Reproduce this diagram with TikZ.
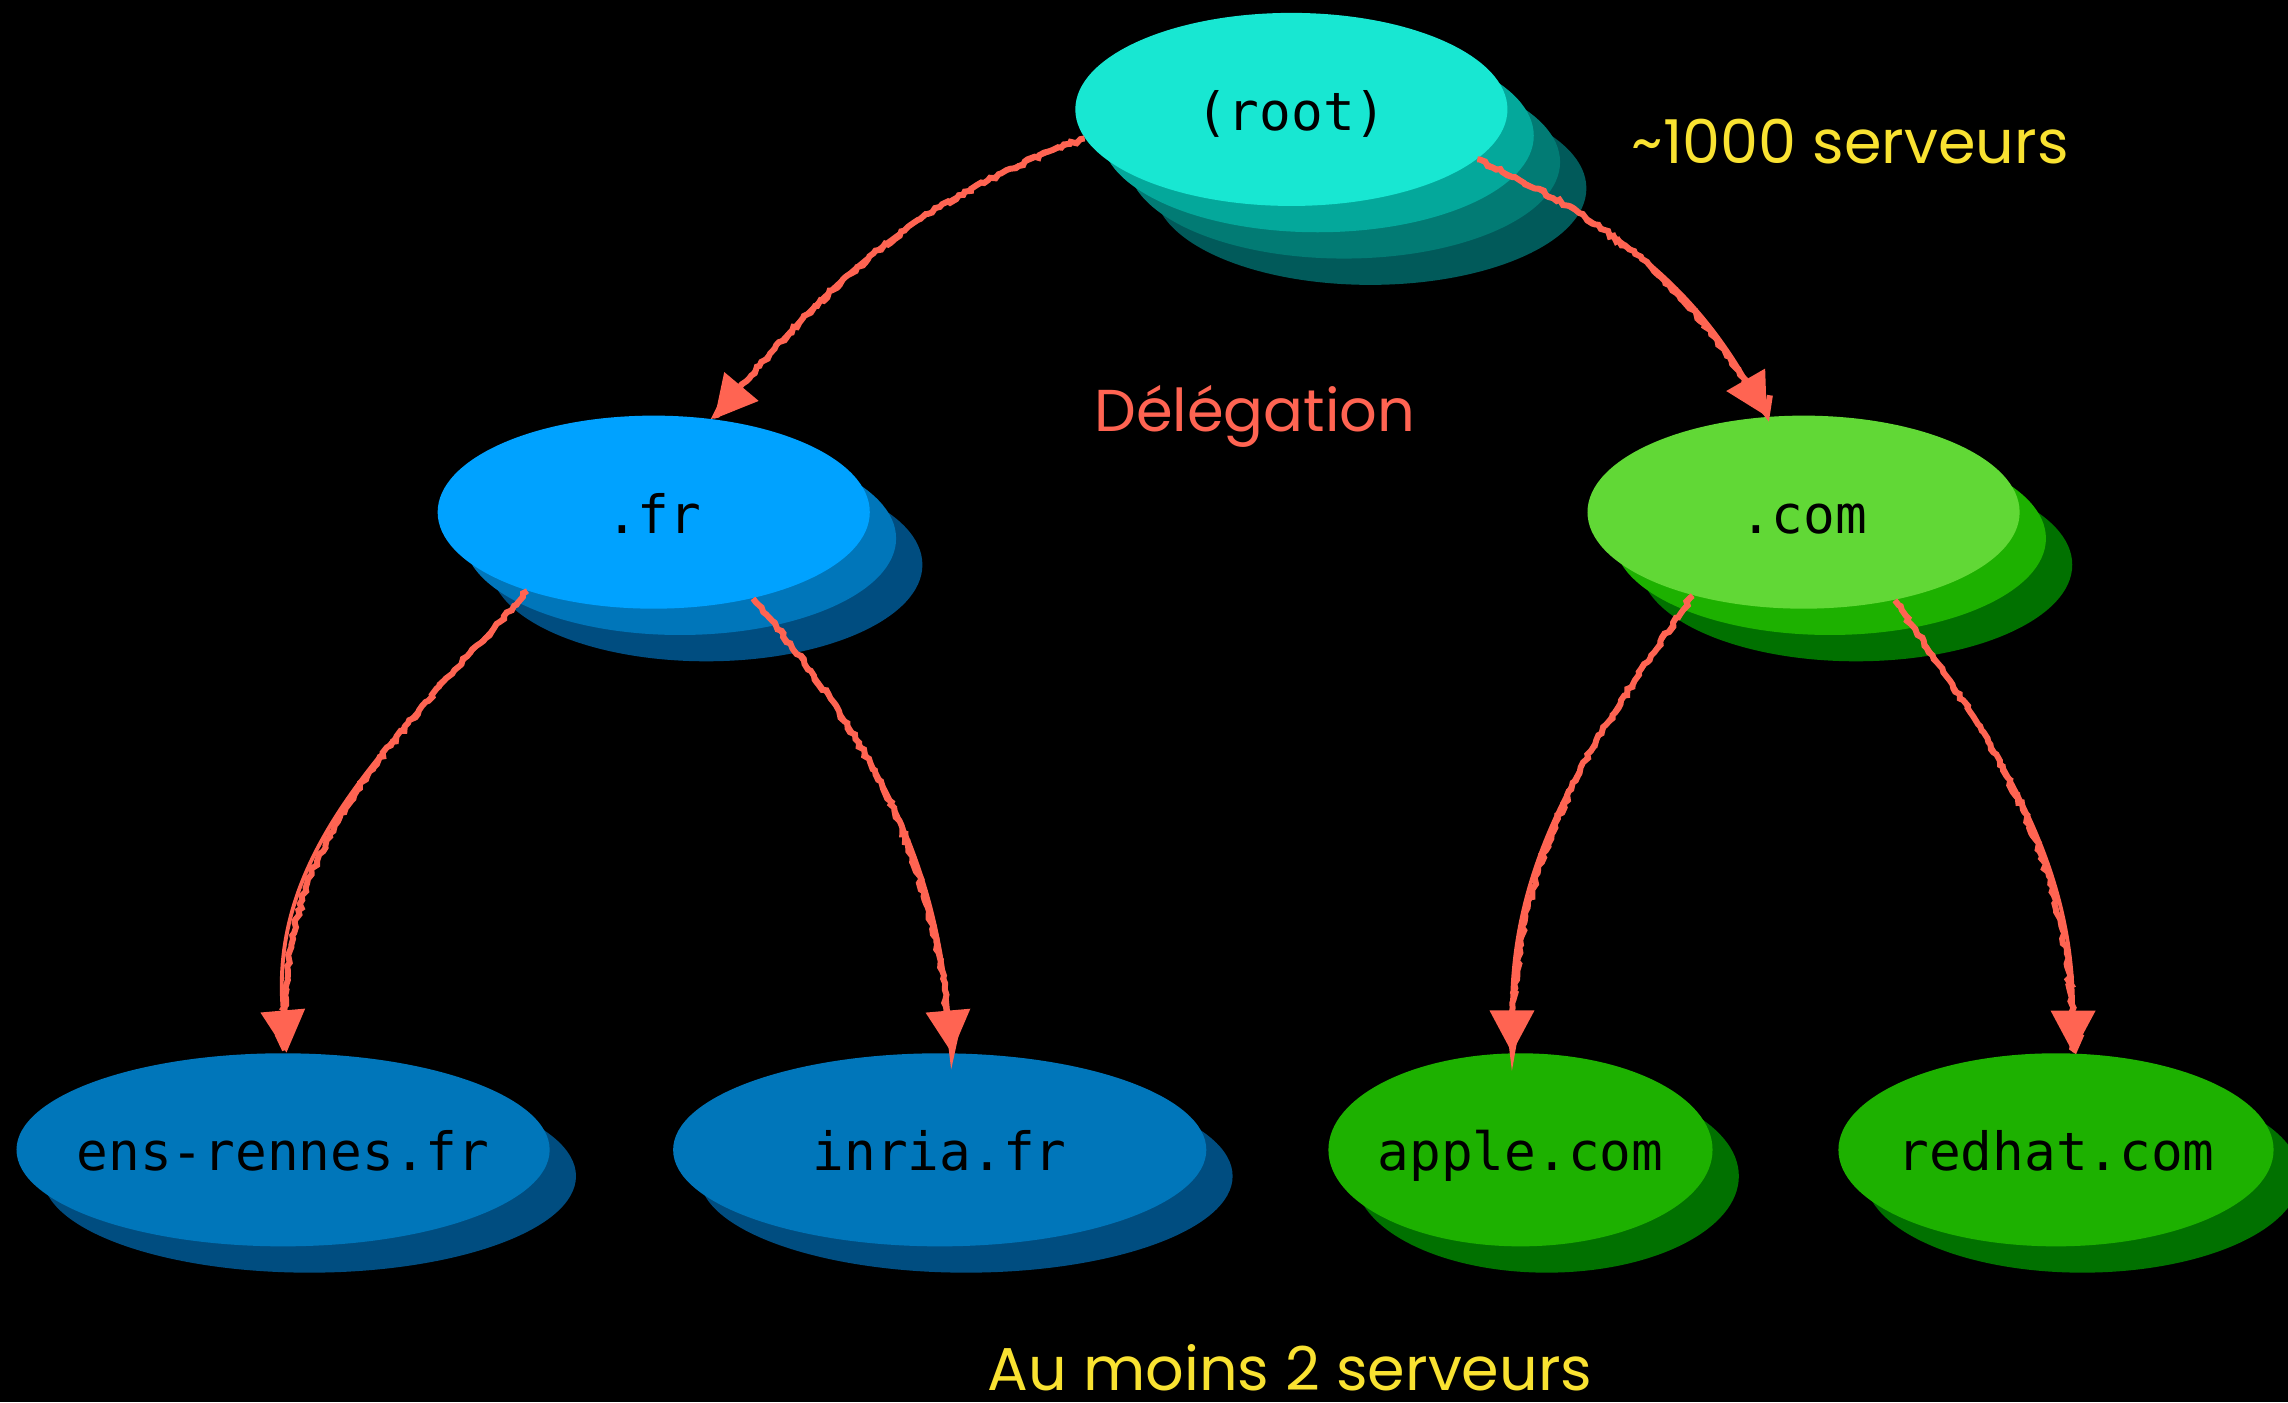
\documentclass[tikz,border=0pt]{standalone}
\usepackage{fontspec}
\setmonofont{DejaVu Sans Mono}
\newfontfamily\handfont{Poppins}
\usepackage{xcolor}
\usetikzlibrary{shapes.geometric}
\usetikzlibrary{shadows}
\usetikzlibrary{arrows.meta}
\usetikzlibrary{decorations.pathmorphing}

\definecolor{rootA}{HTML}{18E7D2}
\definecolor{rootB}{HTML}{04A89B}
\definecolor{rootC}{HTML}{027B74}
\definecolor{rootD}{HTML}{015A5A}
\definecolor{frA}{HTML}{00A2FF}
\definecolor{frB}{HTML}{0076BA}
\definecolor{frC}{HTML}{004D80}
\definecolor{comA}{HTML}{61D836}
\definecolor{comB}{HTML}{1DB100}
\definecolor{comC}{HTML}{017100}
\definecolor{chalk}{HTML}{FF6452}
\definecolor{chalkyellow}{HTML}{F9E231}

\tikzset{
  zone/.style={ellipse, minimum width=#1, minimum height=1.93cm,
    inner xsep=-3cm, inner ysep=-1cm, text height=14pt, text depth=2pt,
    font=\ttfamily\fontsize{15}{18}\selectfont},
  layer/.style n args={2}{general shadow={shadow xshift=#1*0.263cm,
    shadow yshift=-#1*0.263cm, fill=#2}},
  delegate/.style={draw=chalk, line width=1.1pt, -{Triangle[length=12pt,width=12.5pt]},
    preaction={draw=chalk, -, line width=1.7pt, shorten >=6pt, decorate,
      decoration={random steps, segment length=1.2pt, amplitude=0.55pt}}},
  note/.style={font=\handfont\fontsize{17.2}{20}\selectfont, text=chalkyellow},
}

\begin{document}
\begin{tikzpicture}[x=0.014592cm, y=0.014592cm]

  \useasboundingbox[fill=black] (0,0) rectangle (1568,961);

  % Define zones
  \node[zone=4.32cm, fill=rootA, layer={3}{rootD}, layer={2}{rootC}, layer={1}{rootB}]
    (root) at (885,886) {(root)};
  \node[zone=4.32cm, fill=frA, layer={2}{frC}, layer={1}{frB}] (fr) at (448,610) {.fr};
  \node[zone=4.32cm, fill=comA, layer={2}{comC}, layer={1}{comB}] (com) at (1236,610) {.com};
  \node[zone=5.33cm, fill=frB, layer={1}{frC}] (ens) at (194,173) {ens-rennes.fr};
  \node[zone=5.33cm, fill=frB, layer={1}{frC}] (inria) at (644,173) {inria.fr};
  \node[zone=3.84cm, fill=comB, layer={1}{comC}] (apple) at (1042,173) {apple.com};
  \node[zone=4.35cm, fill=comB, layer={1}{comC}] (redhat) at (1409,173) {redhat.com};

  % Delegations
  \draw[delegate] (root.188) to[out=200, in=50] (fr.57);
  \draw[delegate] (root.-15) to[out=-25, in=120] (com.111);
  \draw[delegate] (fr.212) to[out=228, in=95] (ens.88);
  \draw[delegate] (fr.-41) to[out=-50, in=95] (inria.83);
  \draw[delegate] (com.217) to[out=235, in=90] (apple.95);
  \draw[delegate] (com.-44) to[out=-55, in=90] (redhat.80);

  % Notes
  \node[note, anchor=base] (servers) at (1268,849) {\textasciitilde1000 serveurs};
  \node[note, text=chalk, font=\handfont\fontsize{16.8}{20}\selectfont, anchor=base]
    (delegation) at (860,665) {Délégation};
  \node[note, anchor=base] (minimum) at (884,8) {Au moins 2 serveurs};

\end{tikzpicture}
\end{document}
